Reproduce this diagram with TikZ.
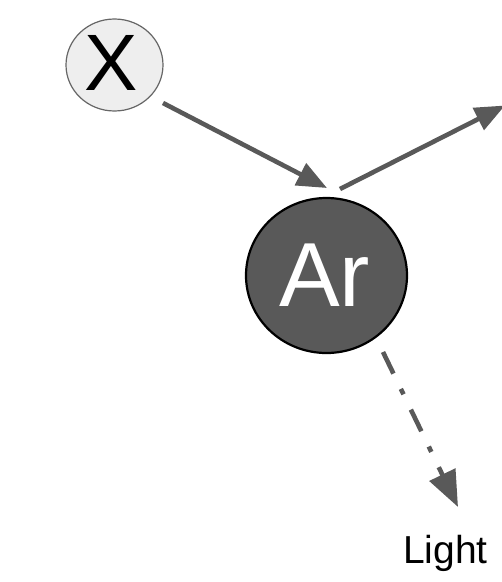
\documentclass[tikz,border=0pt]{standalone}
\usepackage{fontspec}
\setmainfont{Liberation Sans}
\usetikzlibrary{shapes.geometric,arrows.meta}
\definecolor{arr}{HTML}{595959}
\definecolor{xfill}{HTML}{EEEEEE}
\definecolor{xline}{HTML}{666666}
\tikzset{
  conn/.style={draw=arr, line width=4.6pt, -{Triangle[length=30pt,width=24pt]}},
  dashdotconn/.style={conn, dash pattern=on 24pt off 17pt on 6pt off 17pt, -{Triangle[length=36pt,width=28pt]}}
}
\begin{document}
\begin{tikzpicture}[x=1pt,y=-1pt]
\useasboundingbox (0,0) rectangle (502,582);
\node[ellipse, draw=xline, line width=1.2pt, fill=xfill, minimum width=97pt, minimum height=92pt, inner sep=0pt] (X) at (114.5,65) {};
\node[font=\fontsize{80}{80}\selectfont, inner sep=0pt] (Xt) at (111,62.5) {X};
\node[ellipse, draw=black, line width=2.2pt, fill=arr, minimum width=161pt, minimum height=155pt, inner sep=0pt] (Ar) at (326.5,275.5) {};
\node[font=\fontsize{91}{91}\selectfont, text=white, inner sep=0pt] (Art) at (324.5,275.5) {Ar};
\node[font=\fontsize{39}{39}\selectfont, inner sep=0pt, anchor=base] (L) at (445.5,563) {Light};
\coordinate (s1) at (163,103);
\coordinate (e1) at (327,188);
\coordinate (s2) at (340,189);
\coordinate (e2) at (505,105.5);
\coordinate (s3) at (383,352);
\coordinate (e3) at (458,507);
\draw[conn] (s1) -- (e1);
\draw[conn] (s2) -- (e2);
\draw[dashdotconn] (s3) -- (e3);
\end{tikzpicture}
\end{document}
